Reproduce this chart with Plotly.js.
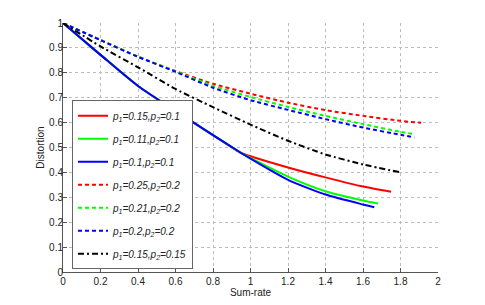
<!DOCTYPE html>
<html>
<head>
<meta charset="utf-8">
<script src="https://cdn.plot.ly/plotly-3.0.1.min.js"></script>
<style>html,body{margin:0;padding:0;background:#fff;}#chart{width:485px;height:305px;}</style>
</head>
<body>
<div id="chart"></div>
<script>
// Series data
const names = [
  '<i>p<sub>1</sub>=0.15,p<sub>2</sub>=0.1</i>',
  '<i>p<sub>1</sub>=0.11,p<sub>2</sub>=0.1</i>',
  '<i>p<sub>1</sub>=0.1,p<sub>2</sub>=0.1</i>',
  '<i>p<sub>1</sub>=0.25,p<sub>2</sub>=0.2</i>',
  '<i>p<sub>1</sub>=0.21,p<sub>2</sub>=0.2</i>',
  '<i>p<sub>1</sub>=0.2,p<sub>2</sub>=0.2</i>',
  '<i>p<sub>1</sub>=0.15,p<sub>2</sub>=0.15</i>'
];
const xRedSolid   = [0, 0.2, 0.4, 0.6, 0.8, 0.95, 1.0, 1.2, 1.4, 1.6, 1.75];
const yRedSolid   = [1, 0.872, 0.747, 0.647, 0.55, 0.478, 0.465, 0.42, 0.38, 0.343, 0.322];
const xGreenSolid = [0, 0.2, 0.4, 0.6, 0.8, 0.95, 1.0, 1.2, 1.4, 1.6, 1.68];
const yGreenSolid = [1, 0.872, 0.747, 0.647, 0.55, 0.478, 0.458, 0.383, 0.324, 0.287, 0.275];
const xBlueSolid  = [0, 0.2, 0.4, 0.6, 0.8, 0.95, 1.0, 1.2, 1.4, 1.6, 1.66];
const yBlueSolid  = [1, 0.872, 0.747, 0.647, 0.55, 0.478, 0.455, 0.37, 0.311, 0.271, 0.26];
const xRedDash    = [0, 0.2, 0.4, 0.6, 0.8, 1.0, 1.2, 1.4, 1.6, 1.8, 1.91];
const yRedDash    = [1, 0.932, 0.865, 0.807, 0.756, 0.716, 0.68, 0.65, 0.627, 0.607, 0.599];
const xGreenDash  = [0, 0.2, 0.4, 0.6, 0.8, 1.0, 1.2, 1.4, 1.6, 1.8, 1.88];
const yGreenDash  = [1, 0.932, 0.865, 0.806, 0.748, 0.703, 0.663, 0.627, 0.594, 0.563, 0.553];
const xBlueDash   = [0, 0.2, 0.4, 0.6, 0.8, 1.0, 1.2, 1.4, 1.6, 1.8, 1.875];
const yBlueDash   = [1, 0.931, 0.864, 0.804, 0.74, 0.69, 0.651, 0.614, 0.58, 0.551, 0.54];
const xBlack      = [0, 0.2, 0.4, 0.6, 0.8, 1.0, 1.2, 1.4, 1.6, 1.8];
const yBlack      = [1, 0.906, 0.822, 0.735, 0.662, 0.592, 0.527, 0.472, 0.432, 0.40];
const xTicks = [0, 0.2, 0.4, 0.6, 0.8, 1, 1.2, 1.4, 1.6, 1.8, 2];
const yTicks = [0, 0.1, 0.2, 0.3, 0.4, 0.5, 0.6, 0.7, 0.8, 0.9, 1];

const series = [
  [xRedSolid, yRedSolid, '#ff0000', 'solid'],
  [xGreenSolid, yGreenSolid, '#00ff00', 'solid'],
  [xBlueSolid, yBlueSolid, '#0000ff', 'solid'],
  [xRedDash, yRedDash, '#ff0000', '4px,3px'],
  [xGreenDash, yGreenDash, '#00ff00', '4px,3px'],
  [xBlueDash, yBlueDash, '#0000ff', '4px,3px'],
  [xBlack, yBlack, '#000000', '6px,3px,2px,3px']
];
const traces = series.map((s, i) => ({
  x: s[0], y: s[1], name: names[i], type: 'scatter', mode: 'lines',
  legendgroup: 'g' + i,
  line: {color: s[2], dash: s[3], width: 2, shape: 'spline', smoothing: 0.6}
}));

const fontFam = '"Liberation Sans Narrow", "Liberation Sans", Arial, sans-serif';
const axisCommon = {
  showgrid: true, gridcolor: '#bdbdbd', griddash: 'dot', gridwidth: 1,
  zeroline: false, showline: true, linecolor: '#555', linewidth: 1,
  ticks: 'inside', ticklen: 4, tickcolor: '#555', mirror: false,
  tickfont: {family: fontFam, size: 10, color: '#222'}
};
const layout = {
  width: 485, height: 305,
  margin: {l: 63, r: 47, t: 23, b: 33},
  paper_bgcolor: '#fff', plot_bgcolor: '#fff',
  showlegend: true,
  legend: {
    x: 0.024, y: 0.69, xanchor: 'left', yanchor: 'top',
    bordercolor: '#666', borderwidth: 1, bgcolor: '#fff',
    font: {family: fontFam, size: 10, color: '#222', style: 'italic'},
    tracegroupgap: 4, itemwidth: 30
  },
  xaxis: Object.assign({}, axisCommon, {
    range: [0, 2], tickvals: xTicks, ticktext: xTicks.map(String),
    title: {text: 'Sum-rate', font: {family: fontFam, size: 10, color: '#222'}, standoff: 1}
  }),
  yaxis: Object.assign({}, axisCommon, {
    range: [0, 1], tickvals: yTicks, ticktext: yTicks.map(String),
    ticklabelstandoff: -3,
    title: {text: 'Distortion', font: {family: fontFam, size: 10, color: '#222'}, standoff: 2}
  })
};
Plotly.newPlot('chart', traces, layout, {displayModeBar: false, staticPlot: true});
</script>
</body>
</html>
